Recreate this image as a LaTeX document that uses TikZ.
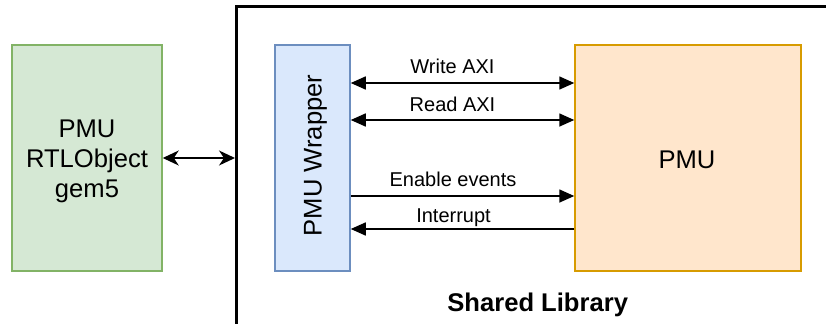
\documentclass[tikz,border=0pt]{standalone}
\usepackage{fontspec}
\setmainfont{Liberation Sans}
\usetikzlibrary{arrows.meta}

\definecolor{simfill}{HTML}{D5E8D4}
\definecolor{simline}{HTML}{82B366}
\definecolor{wrapfill}{HTML}{DAE8FC}
\definecolor{wrapline}{HTML}{6C8EBF}
\definecolor{pmufill}{HTML}{FFE6CC}
\definecolor{pmuline}{HTML}{D79B00}

\tikzset{
  block/.style={draw, line width=1.5pt, inner sep=0pt, minimum height=226pt,
    font=\fontsize{25.6}{30}\selectfont, align=center},
  sigline/.style={line width=1.6pt, draw=black},
  bothways/.style={sigline, {Triangle[length=15pt,width=13pt]}-{Triangle[length=15pt,width=13pt]}},
  oneway/.style={sigline, -{Triangle[length=15pt,width=13pt]}},
  linklabel/.style={font=\fontsize{20}{24}\selectfont, anchor=base, inner sep=0pt},
  hostlink/.style={line width=1.6pt, {Stealth[length=16pt,width=15pt,inset=5pt]}-{Stealth[length=16pt,width=15pt,inset=5pt]}}
}

\begin{document}
\begin{tikzpicture}[x=1pt,y=-1pt]
\useasboundingbox (0,0) rectangle (826,324);

% shared library container, open to the right and bottom
\draw[line width=3.2pt] (826,6.7) -- (236.7,6.7) -- (236.7,324);
\coordinate (libedge) at (235,158);

% blocks
\node[block, fill=simfill, draw=simline, minimum width=150pt] (sim) at (87,158) {};
\node[font=\fontsize{25.6}{30}\selectfont, align=center, inner sep=0pt] (simtext) at (87,161.5) {PMU\\RTLObject\\gem5};
\node[block, fill=wrapfill, draw=wrapline, minimum width=75pt] (wrap) at (312.5,158) {};
\node[font=\fontsize{25.6}{30}\selectfont, rotate=90, anchor=base, inner sep=0pt] (wraptext) at (321.5,155.5) {PMU Wrapper};
\node[block, fill=pmufill, draw=pmuline, minimum width=226pt] (pmu) at (688,158) {};
\node[font=\fontsize{25.6}{30}\selectfont, anchor=base, inner sep=0pt] (pmutext) at (687,168.3) {PMU};

% container title
\node[font=\bfseries\fontsize{25.6}{30}\selectfont, anchor=base, inner sep=0pt] (libtitle) at (537.7,311.7) {Shared Library};

% link between simulator object and the library
\draw[hostlink] (sim.east) -- (libedge);

% signal rows
\coordinate (rowwrite) at (0,83);
\coordinate (rowread) at (0,120);
\coordinate (rowenable) at (0,196);
\coordinate (rowirq) at (0,229);

\draw[bothways] (wrap.east |- rowwrite) -- (pmu.west |- rowwrite);
\draw[bothways] (wrap.east |- rowread) -- (pmu.west |- rowread);
\draw[oneway] (wrap.east |- rowenable) -- (pmu.west |- rowenable);
\draw[oneway] (pmu.west |- rowirq) -- (wrap.east |- rowirq);

\node[linklabel] (lblwrite) at (452.5,73.3) {Write AXI};
\node[linklabel] (lblread) at (452.5,111.7) {Read AXI};
\node[linklabel] (lblenable) at (453,186) {Enable events};
\node[linklabel] (lblirq) at (453.5,222.7) {Interrupt};
\end{tikzpicture}
\end{document}
